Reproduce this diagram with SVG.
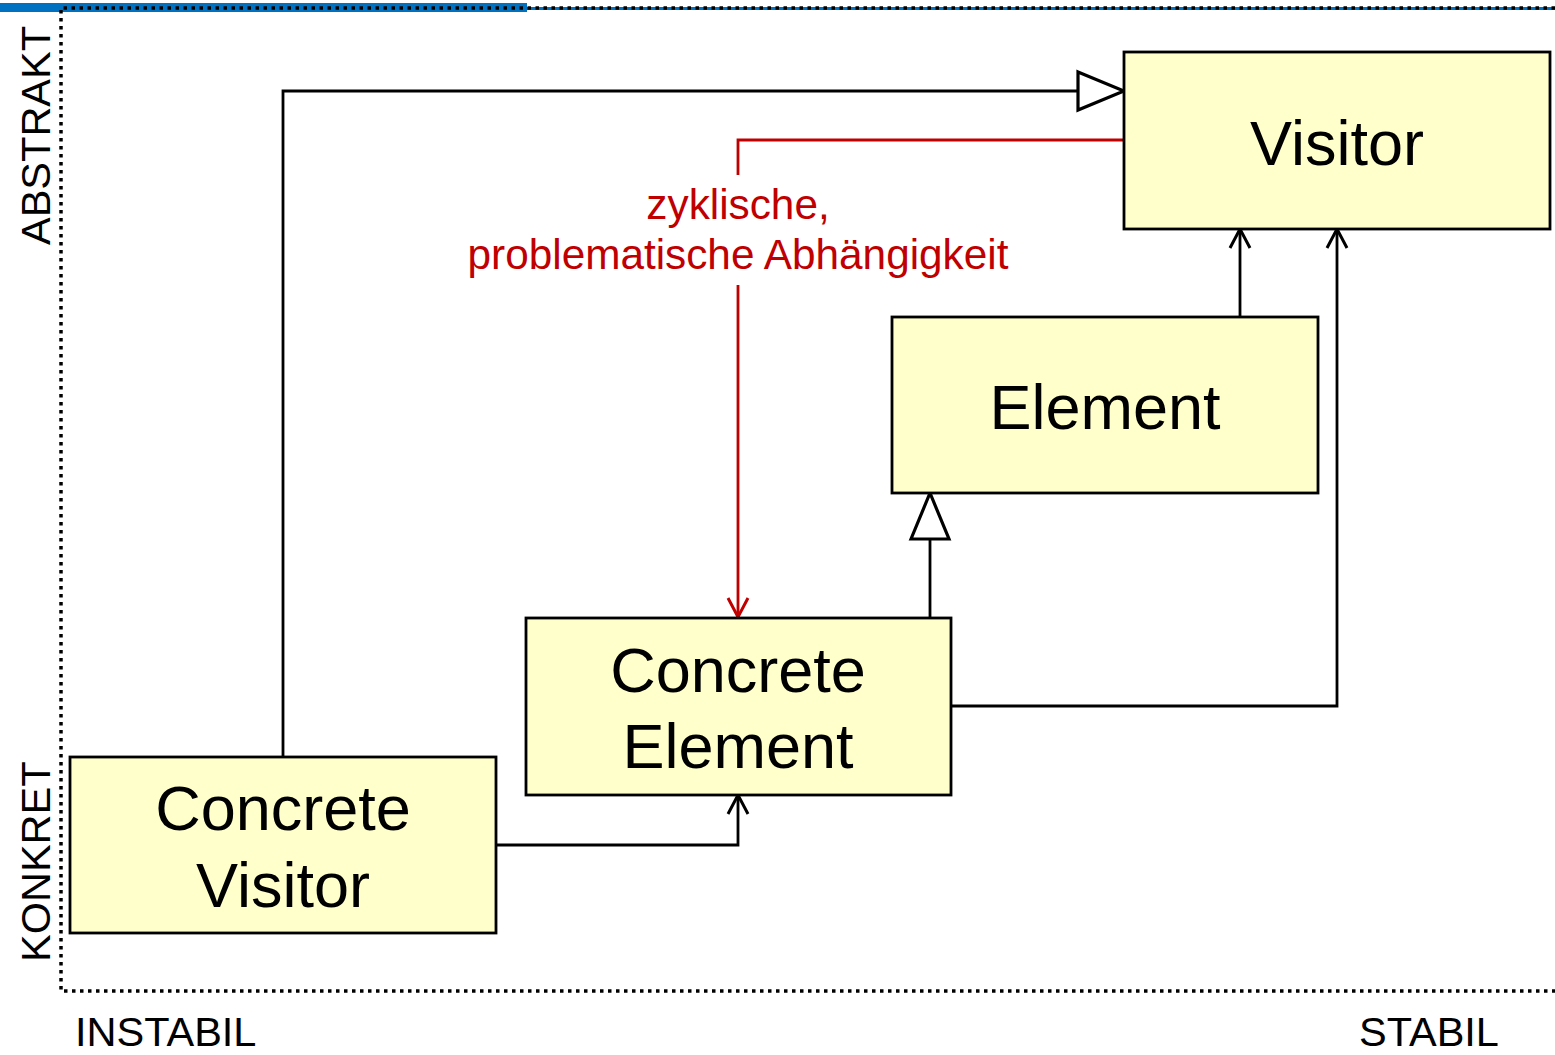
<svg xmlns="http://www.w3.org/2000/svg" width="1555" height="1055" viewBox="0 0 1555 1055">
  <style>
    .box { fill: #FFFFCC; stroke: #000; stroke-width: 2.8; }
    .lbl { font-family: "Liberation Sans", Arial, sans-serif; font-size: 63px; fill: #000; text-anchor: middle; }
    .axis { font-family: "Liberation Sans", Arial, sans-serif; font-size: 41.5px; fill: #000; }
    .frame { fill: none; stroke: #000; stroke-width: 3.5; stroke-dasharray: 3.5 4.5; }
    .edge { fill: none; stroke: #000; stroke-width: 2.8; }
    .red { fill: none; stroke: #C00000; stroke-width: 2.8; }
    .note { font-family: "Liberation Sans", Arial, sans-serif; font-size: 42.3px; fill: #C00000; text-anchor: middle; }
  </style>
  <defs>
    <marker id="open" viewBox="0 0 24 24" refX="21" refY="12" markerWidth="24" markerHeight="24" markerUnits="userSpaceOnUse" orient="auto">
      <path d="M2,2 L21,12 L2,22" fill="none" stroke="#000" stroke-width="3"/>
    </marker>
    <marker id="openRed" viewBox="0 0 24 24" refX="21" refY="12" markerWidth="24" markerHeight="24" markerUnits="userSpaceOnUse" orient="auto">
      <path d="M2,2 L21,12 L2,22" fill="none" stroke="#C00000" stroke-width="3"/>
    </marker>
    <marker id="inherit" viewBox="0 0 52 44" refX="48" refY="22" markerWidth="52" markerHeight="44" markerUnits="userSpaceOnUse" orient="auto">
      <path d="M2,3 L48,22 L2,41 Z" fill="#fff" stroke="#000" stroke-width="3.2"/>
    </marker>
  </defs>

  <!-- header bar -->
  <rect x="0" y="3" width="527" height="9" fill="#0070C0"/>
  <rect x="527" y="7" width="1028" height="3" fill="#0070C0"/>

  <!-- stability / abstraction frame -->
  <g id="frame">
    <path class="frame" d="M1555,8 L61,8 L61,991 L1555,991"/>
    <text class="axis" transform="translate(50,245) rotate(-90)">ABSTRAKT</text>
    <text class="axis" transform="translate(50,962) rotate(-90)">KONKRET</text>
    <text class="axis" x="75" y="1046">INSTABIL</text>
    <text class="axis" x="1359" y="1046">STABIL</text>
  </g>

  <!-- connectors -->
  <g id="connectors">
    <path class="edge" d="M283,757 L283,91 L1124,91" marker-end="url(#inherit)"/>
    <path class="edge" d="M930,618 L930,493" marker-end="url(#inherit)"/>
    <path class="edge" d="M1240,317 L1240,229" marker-end="url(#open)"/>
    <path class="edge" d="M951,706 L1337,706 L1337,229" marker-end="url(#open)"/>
    <path class="edge" d="M496,845 L738,845 L738,795" marker-end="url(#open)"/>
    <path class="red" d="M1124,140 L738,140 L738,175"/>
    <path class="red" d="M738,285 L738,617" marker-end="url(#openRed)"/>
    <text class="note" x="738" y="219">zyklische,</text>
    <text class="note" x="738" y="269">problematische Abhängigkeit</text>
  </g>

  <!-- nodes -->
  <g id="visitor">
    <rect class="box" x="1124" y="52" width="426" height="177"/>
    <text class="lbl" x="1337" y="165">Visitor</text>
  </g>
  <g id="element">
    <rect class="box" x="892" y="317" width="426" height="176"/>
    <text class="lbl" x="1105" y="429">Element</text>
  </g>
  <g id="concrete-element">
    <rect class="box" x="526" y="618" width="425" height="177"/>
    <text class="lbl" x="738" y="692">Concrete</text>
    <text class="lbl" x="738" y="768">Element</text>
  </g>
  <g id="concrete-visitor">
    <rect class="box" x="70" y="757" width="426" height="176"/>
    <text class="lbl" x="283" y="830">Concrete</text>
    <text class="lbl" x="283" y="907">Visitor</text>
  </g>
</svg>
